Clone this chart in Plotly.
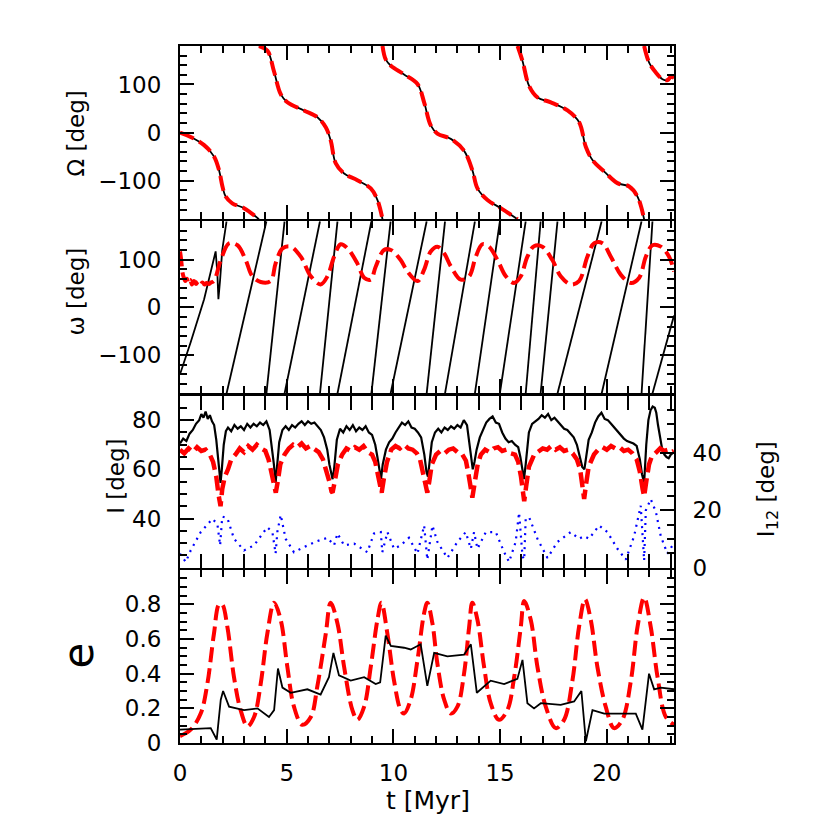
import plotly.graph_objects as go

# x range of every panel [Myr]
T_MAX = 23.15

# --- panel 1: longitude of the node, Omega [deg] (wrapped, None = wrap) ---
node_t = [0, 0.5, 1.13, 1.6, 1.83, 1.99, 2.14, 2.45, 3.0, 3.7, None,
          3.7, 4.1, 4.4, 4.72, 5.03, 5.81, 6.44, 6.83, 7.06, 7.3, 7.69, 8.31, 8.94, 9.25, 9.49, None,
          9.49, 9.64, 9.88, 10.5, 11.13, 11.44, 11.75, 12.06, 12.69, 13.3, 13.7, 13.94, 14.41, 15.03, 15.82, None,
          15.82, 16.05, 16.36, 16.76, 17.38, 18.16, 18.7, 19.02, 19.33, 19.88, 20.5, 21.05, 21.44, 21.75, None,
          21.75, 21.99, 22.3, 22.61, 22.85, 23.0, 23.15]
node_deg = [0, -9, -26, -50, -78, -112, -133, -147, -157, -180, None,
            180, 170, 128, 80, 63, 46, 32, 11, -16, -64, -85, -99, -116, -140, -180, None,
            180, 152, 139, 121, 101, 63, 15, -2, -13, -37, -78, -116, -140, -157, -180, None,
            180, 149, 97, 73, 63, 46, 22, -30, -57, -81, -105, -112, -133, -180, None,
            180, 145, 125, 111, 109, 116, 114]

# --- panel 2: argument of pericentre, omega [deg] ---
peri_nb_t = [0, 0.5, 1.13, 1.52, 1.67, 1.75, 1.8, 1.88, 1.98, 2.18, None,
             2.18, 4.05, None, 4.05, 4.9, None, 4.9, 6.56, None, 6.56, 7.38, None,
             7.38, 8.97, None, 8.97, 9.87, None, 9.87, 11.56, None, 11.56, 12.42, None,
             12.42, 13.82, None, 13.82, 14.99, None, 14.99, 16.2, None, 16.2, 16.9, None,
             16.9, 17.69, None, 17.69, 19.76, None, 19.76, 21.63, None, 21.63, 22.14, None,
             22.14, 23.15]
peri_nb_deg = [-140, -73, 17, 86, 117, 72, 17, 58, 120, 180, None,
               -180, 180, None, -180, 180, None, -180, 180, None, -180, 180, None,
               -180, 180, None, -180, 180, None, -180, 180, None, -180, 180, None,
               -180, 180, None, -180, 180, None, -180, 180, None, -180, 180, None,
               -180, 180, None, -180, 180, None, -180, 180, None, -180, 180, None,
               -180, -17]

peri_sec_t = [0, 0.04, 0.08, 0.12, 0.18, 0.25, 0.32, 0.4, 0.48, 0.56,
              0.65, 0.75, 0.85, 0.95, 1.05, 1.15, 1.25, 1.35, 1.45, 1.59,
              1.91, 2.3, 2.69, 3.08, 3.39, 3.78, 4.25, 4.48, 4.8, 5.19,
              5.66, 6.13, 6.59, 6.91, 7.22, 7.53, 7.84, 8.31, 8.63, 8.94,
              9.17, 9.56, 9.88, 10.34, 10.66, 11.13, 11.44, 11.75, 12.06, 12.38,
              12.69, 13.16, 13.55, 13.86, 14.17, 14.48, 14.88, 15.27, 15.66, 15.97,
              16.28, 16.59, 16.98, 17.45, 17.84, 18.31, 18.7, 19.09, 19.41, 19.8,
              20.19, 20.66, 21.13, 21.52, 21.83, 22.14, 22.53, 22.92, 23.15]
peri_sec_deg = [117, 105, 88, 72, 62, 55, 60, 50, 57, 48,
                55, 49, 54, 47, 52, 48, 51, 49, 52, 55,
                99, 134, 130, 99, 65, 53, 55, 92, 123, 127,
                106, 65, 48, 65, 106, 132, 124, 92, 62, 58,
                85, 120, 120, 99, 75, 55, 79, 117, 127, 113,
                86, 58, 65, 106, 132, 127, 99, 65, 51, 65,
                106, 128, 127, 99, 65, 48, 55, 106, 134, 134,
                106, 68, 51, 62, 106, 130, 127, 106, 75]

# --- panel 3: inclination I [deg] (left) and mutual inclination I12 [deg] (right) ---
incl_nb_t = [0, 0.15, 0.3, 0.45, 0.6, 0.75, 0.9, 1.0, 1.1, 1.2, 1.3, 1.4, 1.5, 1.6, 1.7, 1.78, 1.85, 1.9, 1.96,
             2.05, 2.15, 2.25, 2.4, 2.55, 2.7, 2.85, 3.0, 3.15, 3.3, 3.45, 3.6, 3.75, 3.9, 4.05, 4.2, 4.3, 4.4, 4.48, 4.55,
             4.65, 4.8, 4.95, 5.1, 5.25, 5.4, 5.55, 5.7, 5.85, 6.0, 6.15, 6.3, 6.45, 6.6, 6.75, 6.9, 7.0, 7.1, 7.15, 7.22,
             7.35, 7.5, 7.65, 7.8, 7.95, 8.1, 8.25, 8.4, 8.55, 8.7, 8.85, 9.0, 9.15, 9.25, 9.35, 9.42, 9.5,
             9.65, 9.8, 9.95, 10.1, 10.25, 10.4, 10.55, 10.7, 10.85, 11.0, 11.15, 11.3, 11.45, 11.55, 11.62, 11.7,
             11.8, 11.95, 12.1, 12.25, 12.4, 12.55, 12.7, 12.85, 13.0, 13.15, 13.3, 13.45, 13.55, 13.65, 13.72, 13.8,
             13.9, 14.05, 14.2, 14.35, 14.5, 14.65, 14.8, 14.95, 15.1, 15.25, 15.4, 15.55, 15.7, 15.85, 15.95, 16.05, 16.12, 16.2,
             16.35, 16.5, 16.65, 16.8, 16.95, 17.1, 17.25, 17.4, 17.55, 17.7, 17.85, 18.0, 18.15, 18.3, 18.45, 18.6, 18.75, 18.85, 18.95, 19.05,
             19.15, 19.3, 19.45, 19.6, 19.75, 19.9, 20.05, 20.2, 20.35, 20.5, 20.65, 20.8, 20.95, 21.1, 21.25, 21.4, 21.55, 21.65, 21.75, 21.85,
             21.95, 22.05, 22.15, 22.25, 22.32, 22.4, 22.5, 22.6, 22.7, 22.8, 22.9, 23.0, 23.15]
incl_nb_deg = [70.5, 72.5, 71.5, 74.5, 76, 78.5, 80, 82.5, 81, 83.5, 80.5, 82, 79.5, 78, 72, 64, 57, 54.5, 60,
               70, 75.5, 77, 75.5, 78, 76.5, 77.5, 76, 78.5, 77, 78.5, 77.5, 79, 78, 79.5, 76, 70, 62, 54.5, 62,
               71, 76, 77.5, 76, 78, 77, 78.5, 79.5, 78, 79.5, 78.5, 79, 77.5, 76, 73, 68, 62, 57, 56, 60,
               72, 76.5, 75, 77.5, 76, 78, 75.5, 77, 76, 77.5, 75, 74, 70, 65, 59, 56, 62,
               68, 71, 72.5, 75, 77, 79, 78, 79.5, 77, 76.5, 75, 73, 66, 59, 57, 63,
               71, 75, 76.5, 75, 77, 76, 77.5, 76.5, 78, 77, 80, 78, 72, 64, 60, 63,
               68, 73, 76, 79, 80.5, 81.5, 79, 78.5, 75, 72.5, 71, 71.5, 70, 69, 65, 59, 56, 62,
               75, 78.5, 79.5, 80.5, 82, 81, 82.5, 80, 81, 79.5, 78, 76.5, 76, 74.5, 73, 70, 65, 61, 60, 66,
               72, 75, 79, 81.5, 83, 80.5, 80, 78.5, 77, 75.5, 74, 72.5, 71.5, 71, 70.5, 69.5, 64, 58, 54.5, 70,
               80, 84, 85.5, 85, 83, 78, 72, 68, 66, 65, 64.5, 66, 67]

incl_sec_t = [0, 0.2, 0.4, 0.6, 0.8, 1.0, 1.2, 1.4, 1.55, 1.7, 1.8, 1.9, 1.98, 2.1, 2.25,
              2.4, 2.6, 2.8, 3.0, 3.2, 3.4, 3.6, 3.8, 4.0, 4.15, 4.3, 4.42, 4.49, 4.58, 4.7,
              4.9, 5.1, 5.3, 5.5, 5.7, 5.9, 6.1, 6.3, 6.5, 6.7, 6.85, 7.0, 7.1, 7.15, 7.25, 7.4,
              7.6, 7.8, 8.0, 8.2, 8.4, 8.6, 8.8, 9.0, 9.15, 9.3, 9.4, 9.45, 9.55, 9.7,
              9.9, 10.1, 10.3, 10.5, 10.7, 10.9, 11.1, 11.25, 11.4, 11.52, 11.59, 11.68, 11.8,
              12.0, 12.2, 12.4, 12.6, 12.8, 13.0, 13.2, 13.4, 13.52, 13.62, 13.7, 13.8, 13.95,
              14.1, 14.3, 14.5, 14.7, 14.9, 15.1, 15.3, 15.5, 15.7, 15.85, 15.98, 16.07, 16.13, 16.22, 16.35,
              16.6, 16.8, 17.0, 17.2, 17.4, 17.6, 17.8, 18.0, 18.2, 18.4, 18.6, 18.75, 18.87, 18.94, 19.03, 19.15,
              19.4, 19.6, 19.8, 20.0, 20.2, 20.4, 20.6, 20.8, 21.0, 21.2, 21.4, 21.55, 21.68, 21.75, 21.85, 21.98,
              22.1, 22.3, 22.5, 22.7, 22.9, 23.05, 23.15]
incl_sec_deg = [68, 66.5, 68.5, 67, 69, 67.5, 68, 66, 63, 57, 50, 45, 52, 57, 60,
                64, 66, 68.5, 67, 69.5, 68, 70, 68.5, 67.5, 64, 58, 52, 50.5, 55, 62,
                66, 68.5, 70, 69, 70.5, 68.5, 69.5, 68, 67, 64, 60, 55, 51, 50.5, 55, 62,
                66, 68.5, 67.5, 69, 68, 69.5, 67, 66, 63, 57, 52, 50.5, 56, 63,
                68, 69.5, 68.5, 70, 68.5, 68, 66.5, 64, 58, 52, 50.5, 55, 62,
                66, 67.5, 66.5, 68, 68.5, 67, 66.5, 63.5, 58, 52, 48.5, 54, 62,
                66, 68, 67, 68.5, 69, 67.5, 68, 66.5, 66, 63, 57, 51, 47, 53, 61,
                66, 67.5, 68.5, 68, 69.5, 68, 69, 67.5, 68, 66.5, 64, 60, 53, 48, 54, 61,
                66, 68, 69, 68, 69.5, 68.5, 69, 67.5, 68, 66.5, 64, 59, 52, 49, 55, 62,
                65, 67, 68.5, 67.5, 68, 67, 67.5]

incl12_t = [0, 0.27, 0.5, 0.97, 1.52, 1.75, 1.88, 1.98, 2.22, 2.53,
            3.0, 3.47, 4.09, 4.33, 4.48, 4.56, 4.72, 4.95, 5.34, 5.81,
            6.44, 6.91, 7.22, 7.38, 7.69, 8.16, 8.78, 9.09, 9.41, 9.48,
            9.72, 10.03, 10.34, 10.73, 11.13, 11.44, 11.59, 11.83, 12.06, 12.53,
            13.0, 13.39, 13.63, 13.78, 13.94, 14.33, 14.8, 15.19, 15.42, 15.73,
            15.89, 16.05, 16.13, 16.2, 16.36, 16.75, 17.22, 17.69, 18.31, 18.7,
            18.94, 19.17, 19.64, 20.03, 20.5, 20.89, 21.28, 21.59, 21.75, 21.83,
            22.06, 22.3, 22.53, 22.84, 23.08]
incl12_deg = [4.9, 2.0, 6.0, 12.4, 17.0, 15.3, 7.8, 17.8, 17.3, 10.1,
              6.0, 7.8, 14.1, 12.4, 4.9, 12.4, 18.4, 10.1, 5.4, 7.2,
              9.3, 10.4, 7.8, 11.9, 7.8, 8.4, 5.4, 11.9, 12.4, 5.4,
              12.4, 6.6, 7.8, 10.4, 4.9, 14.7, 2.8, 14.7, 9.0, 3.4,
              9.0, 12.4, 6.6, 12.4, 6.6, 12.4, 12.4, 5.4, 2.0, 9.0,
              19.2, 4.0, 2.8, 17.0, 17.6, 10.1, 3.4, 9.0, 12.4, 10.1,
              11.0, 10.1, 14.7, 12.4, 6.6, 2.8, 11.0, 21.6, 2.5, 20.0,
              23.9, 19.5, 11.0, 4.9, 7.8]

# --- panel 4: eccentricity e ---
ecc_sec_t = [0, 0.5, 0.97, 1.28, 1.59, 1.83, 1.98, 2.22, 2.53, 2.84,
             3.16, 3.47, 3.78, 4.09, 4.41, 4.72, 5.03, 5.34, 5.73, 6.13,
             6.44, 6.83, 7.06, 7.38, 7.69, 8.08, 8.31, 8.63, 8.94, 9.25,
             9.44, 9.72, 10.03, 10.34, 10.5, 10.81, 11.13, 11.44, 11.59, 11.83,
             12.06, 12.38, 12.69, 13.0, 13.31, 13.55, 13.70, 13.94, 14.25, 14.56,
             14.95, 15.34, 15.66, 15.97, 16.13, 16.44, 16.75, 17.14, 17.61, 18.0,
             18.39, 18.7, 18.98, 19.25, 19.56, 19.95, 20.34, 20.73, 21.13, 21.44,
             21.75, 22.06, 22.38, 22.77, 23.16]
ecc_sec = [0.04, 0.077, 0.17, 0.34, 0.63, 0.80, 0.80, 0.67, 0.38, 0.19,
           0.096, 0.15, 0.34, 0.63, 0.81, 0.71, 0.44, 0.21, 0.105, 0.15,
           0.33, 0.63, 0.81, 0.69, 0.44, 0.19, 0.134, 0.21, 0.44, 0.71,
           0.81, 0.63, 0.36, 0.19, 0.17, 0.25, 0.48, 0.75, 0.81, 0.69,
           0.46, 0.25, 0.17, 0.21, 0.40, 0.67, 0.81, 0.71, 0.44, 0.23,
           0.134, 0.19, 0.38, 0.67, 0.82, 0.71, 0.44, 0.21, 0.086, 0.134,
           0.36, 0.67, 0.83, 0.71, 0.44, 0.21, 0.086, 0.134, 0.36, 0.67,
           0.84, 0.67, 0.38, 0.15, 0.105]

ecc_nb_t = [0, 1.44, 1.72, 1.91, 2.02, 2.30, 3.0, 3.63, 4.17, 4.41,
            4.59, 4.8, 5.19, 5.97, 6.59, 6.98, 7.19, 7.45, 8.0, 8.63,
            9.17, 9.38, 9.64, 9.88, 10.5, 10.81, 11.28, 11.59, 11.91, 12.53,
            13.31, 13.63, 13.91, 14.56, 15.19, 15.81, 16.05, 16.28, 16.59, 16.91,
            17.84, 18.47, 18.81, 19.02, 19.33, 19.88, 20.81, 21.36, 21.67, 21.98,
            22.22, 22.53, 23.16]
ecc_nb = [0.077, 0.086, 0.02, 0.25, 0.30, 0.21, 0.19, 0.20, 0.15, 0.19,
          0.43, 0.32, 0.29, 0.31, 0.28, 0.38, 0.52, 0.39, 0.36, 0.38,
          0.34, 0.35, 0.62, 0.56, 0.55, 0.54, 0.57, 0.33, 0.52, 0.50,
          0.51, 0.57, 0.29, 0.36, 0.34, 0.37, 0.48, 0.23, 0.20, 0.23,
          0.22, 0.24, 0.30, 0.01, 0.19, 0.17, 0.17, 0.17, 0.077, 0.40,
          0.31, 0.32, 0.31]

BLACK = dict(color="black", width=1.8)
RED = dict(color="red", width=4, dash="15px,6px")
BLUE = dict(color="blue", width=2.2, dash="2px,5px")

fig = go.Figure()

# panel 1
fig.add_trace(go.Scatter(x=node_t, y=node_deg, mode="lines", line=dict(BLACK, shape="spline"),
                         xaxis="x", yaxis="y"))
fig.add_trace(go.Scatter(x=node_t, y=node_deg, mode="lines", line=dict(RED, shape="spline"),
                         xaxis="x", yaxis="y"))
# panel 2
fig.add_trace(go.Scatter(x=peri_nb_t, y=peri_nb_deg, mode="lines", line=BLACK,
                         xaxis="x2", yaxis="y2"))
fig.add_trace(go.Scatter(x=peri_sec_t, y=peri_sec_deg, mode="lines", line=dict(RED, shape="spline"),
                         xaxis="x2", yaxis="y2"))
# panel 3
fig.add_trace(go.Scatter(x=incl_nb_t, y=incl_nb_deg, mode="lines", line=dict(BLACK, width=2.2),
                         xaxis="x3", yaxis="y3"))
fig.add_trace(go.Scatter(x=incl_sec_t, y=incl_sec_deg, mode="lines", line=dict(RED, width=4.5),
                         xaxis="x3", yaxis="y3"))
fig.add_trace(go.Scatter(x=incl12_t, y=incl12_deg, mode="lines", line=BLUE,
                         xaxis="x3", yaxis="y5"))
# panel 4
fig.add_trace(go.Scatter(x=ecc_sec_t, y=ecc_sec, mode="lines", line=dict(RED, shape="spline"),
                         xaxis="x4", yaxis="y4"))
fig.add_trace(go.Scatter(x=ecc_nb_t, y=ecc_nb, mode="lines", line=BLACK,
                         xaxis="x4", yaxis="y4"))

FONT = dict(family="DejaVu Sans", size=23, color="black")
base = dict(showline=True, linecolor="black", linewidth=2, ticks="inside", ticklen=14,
            tickwidth=2, tickcolor="black", showgrid=False, zeroline=False, tickfont=FONT)


def xax(anchor, labels):
    return dict(base, anchor=anchor, range=[0, T_MAX], mirror="allticks",
                tickvals=[0, 5, 10, 15, 20], showticklabels=labels, ticklabelstandoff=8,
                minor=dict(ticks="inside", ticklen=7, tickwidth=2, tickcolor="black",
                           dtick=1, tick0=0, showgrid=False))


def yax(anchor, dom, rng, vals, mdt, mirror="allticks", **kw):
    return dict(base, anchor=anchor, domain=dom, range=rng, tickvals=vals, mirror=mirror,
                ticklabelstandoff=12,
                minor=dict(ticks="inside", ticklen=7, tickwidth=2, tickcolor="black",
                           dtick=mdt, tick0=0, showgrid=False), **kw)


# small gap so the axis lines of neighbouring panels fall on the same pixels
G = 0.0015

# the page adds ~7px of body margin, so margins are shifted to compensate
fig.update_layout(
    width=830, height=830,
    margin=dict(l=172, r=164, t=38, b=95),
    paper_bgcolor="white", plot_bgcolor="white",
    showlegend=False,
    xaxis=xax("y", False), xaxis2=xax("y2", False), xaxis3=xax("y3", False), xaxis4=xax("y4", True),
    yaxis=yax("x", [0.75 + G, 1.0], [-180, 180], [-100, 0, 100], 20),
    yaxis2=yax("x2", [0.5 + G, 0.75 - G], [-180, 180], [-100, 0, 100], 20),
    yaxis3=yax("x3", [0.25 + G, 0.5 - G], [20, 90], [40, 60, 80], 5, mirror=False),
    yaxis4=yax("x4", [0.0, 0.25 - G], [0, 1], [0, 0.2, 0.4, 0.6, 0.8], 0.05),
    yaxis5=yax("x3", [0.25 + G, 0.5 - G], [0, 60], [0, 20, 40], 5, mirror=False,
               overlaying="y3", side="right"),
)

# axis titles as annotations (paper coords)
titles = [
    ("Ω [deg]", -0.21, 0.875, 23),
    ("ω [deg]", -0.21, 0.648, 23),
    ("I [deg]", -0.13, 0.383, 23),
    ("e", -0.205, 0.125, 42),
    ("I<sub>12</sub> [deg]", 1.19, 0.364, 23),
]
for txt, x, y, size in titles:
    fig.add_annotation(text=txt, x=x, y=y, xref="paper", yref="paper", showarrow=False,
                       textangle=-90, xanchor="center", yanchor="middle",
                       font=dict(FONT, size=size))
fig.add_annotation(text="t [Myr]", x=0.502, y=-0.083, xref="paper", yref="paper",
                   showarrow=False, xanchor="center", yanchor="middle", font=dict(FONT, size=25))

fig.write_html("out.html")
